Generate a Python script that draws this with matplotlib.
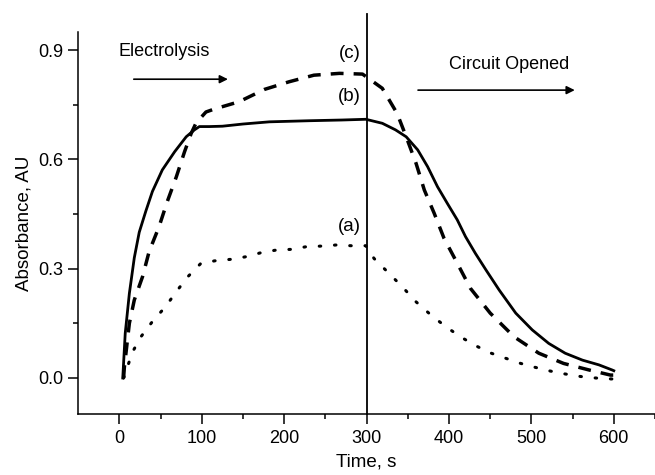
import matplotlib
matplotlib.use("Agg")
import matplotlib.pyplot as plt
import numpy as np

# curve (a): dotted
t_a = [5, 16, 26, 40, 56, 69, 83, 99, 117, 137, 154, 172, 190, 208, 226, 245, 263, 281, 299,
       309, 325, 343, 360, 378, 396, 414, 432, 450, 469, 487, 505, 523, 541, 560, 578, 600]
abs_a = [0.0, 0.072, 0.113, 0.155, 0.196, 0.237, 0.278, 0.315, 0.322, 0.326, 0.333, 0.344, 0.351,
         0.353, 0.360, 0.362, 0.365, 0.363, 0.363,
         0.328, 0.292, 0.251, 0.209, 0.173, 0.141, 0.113, 0.089, 0.069, 0.054, 0.040, 0.029,
         0.019, 0.011, 0.004, 0.0, -0.003]

# curve (b): solid
t_b = [4, 7, 12, 18, 24, 32, 40, 52, 67, 81, 91, 97, 109, 125, 150, 182, 230, 270, 299,
       319, 335, 348, 362, 374, 386, 398, 410, 420, 432, 445, 461, 481, 501, 521, 541,
       562, 582, 598, 600]
abs_b = [0.0, 0.123, 0.232, 0.330, 0.400, 0.458, 0.512, 0.571, 0.621, 0.662, 0.681, 0.690,
         0.690, 0.691, 0.697, 0.703, 0.706, 0.708, 0.710,
         0.699, 0.681, 0.662, 0.626, 0.580, 0.525, 0.479, 0.434, 0.388, 0.342, 0.296, 0.241,
         0.178, 0.132, 0.095, 0.068, 0.049, 0.036, 0.022, 0.02]

# curve (c): dashed
t_c = [5, 6, 12, 18, 28, 36, 48, 58, 69, 79, 87, 93, 105, 115, 145, 176, 206, 236, 267, 295,
       319, 337, 348, 360, 370, 382, 394, 410, 426, 450, 479, 509, 539, 570, 596, 600]
abs_c = [0.0, 0.031, 0.150, 0.214, 0.278, 0.347, 0.415, 0.484, 0.552, 0.621, 0.671, 0.700,
         0.730, 0.738, 0.758, 0.792, 0.813, 0.831, 0.836, 0.834,
         0.795, 0.726, 0.662, 0.589, 0.516, 0.452, 0.383, 0.315, 0.246, 0.178, 0.113, 0.068,
         0.040, 0.022, 0.008, 0.008]

xticks = [0, 100, 200, 300, 400, 500, 600]
yticks = [0.0, 0.3, 0.6, 0.9]

plt.rcParams['font.family'] = ['Liberation Sans', 'DejaVu Sans']

fig = plt.figure(figsize=(6.55, 4.75), dpi=100)
ax = fig.add_axes([0.1195, 0.1275, 0.8805, 0.8055])

ax.plot(t_a, abs_a, color='k', lw=2.2, ls=(0, (0.5, 4.5)), dash_capstyle='round')
ax.plot(t_b, abs_b, color='k', lw=2.0)
ax.plot(t_c, abs_c, color='k', lw=2.5, ls=(0, (3.7, 2.9)))

# circuit opened at 300 s
ax.plot([300, 300], [-0.1, 1.0], color='k', lw=1.3, clip_on=False)

ax.set_xlim(-50, 650)
ax.set_ylim(-0.1, 0.95)
ax.set_xticks(xticks)
ax.set_xticks(np.arange(50, 651, 100), minor=True)
ax.set_yticks(yticks)
ax.set_yticks([0.15, 0.45, 0.75], minor=True)
ax.set_yticklabels(['%.1f' % v for v in yticks])

ax.spines['top'].set_visible(False)
ax.spines['right'].set_visible(False)
for s in ('left', 'bottom'):
    ax.spines[s].set_linewidth(1.1)
ax.tick_params(which='major', direction='out', length=7, width=1.1, labelsize=13, pad=4)
ax.tick_params(which='minor', direction='out', length=3.5, width=1.1)

ax.set_xlabel('Time, s', fontsize=13.5, labelpad=5)
ax.set_ylabel('Absorbance, AU', fontsize=13.5, labelpad=4)

# annotations
ax.text(-1, 0.895, 'Electrolysis', fontsize=13, va='center', ha='left')
ax.annotate('', xy=(135, 0.82), xytext=(14, 0.82),
            arrowprops=dict(arrowstyle='-|>', color='k', lw=1.2, mutation_scale=12))
ax.text(400, 0.859, 'Circuit Opened', fontsize=13, va='center', ha='left')
ax.annotate('', xy=(556, 0.79), xytext=(359, 0.79),
            arrowprops=dict(arrowstyle='-|>', color='k', lw=1.2, mutation_scale=12))

ax.text(279, 0.89, '(c)', fontsize=13.5, ha='center', va='center')
ax.text(279, 0.772, '(b)', fontsize=13.5, ha='center', va='center')
ax.text(279, 0.415, '(a)', fontsize=13.5, ha='center', va='center')

fig.savefig('out.png', dpi=100)
